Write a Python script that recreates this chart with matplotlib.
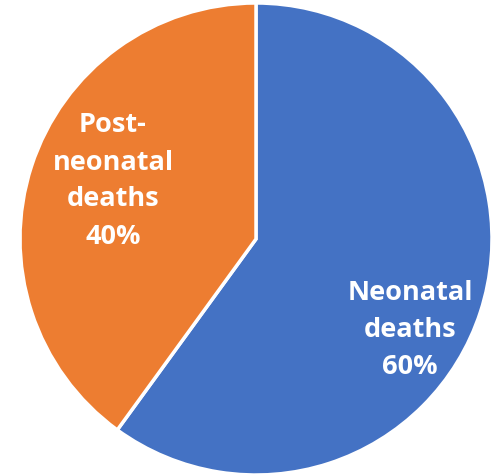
import matplotlib
matplotlib.use("Agg")
import matplotlib.pyplot as plt

# data
categories = ["Neonatal\ndeaths", "Post-\nneonatal\ndeaths"]
shares = [60, 40]
colors = ["#4472C4", "#ED7D31"]

# label centres (in pie radius units)
label_pos = [(0.653, -0.381), (-0.606, 0.25)]

fig = plt.figure(figsize=(5, 4.77), dpi=100)
ax = fig.add_axes([0, 0, 1, 1])

ax.pie(shares, colors=colors, startangle=90, counterclock=False,
       radius=1.0, center=(0, 0),
       wedgeprops=dict(edgecolor="white", linewidth=2.5))

for cat, val, (x, y) in zip(categories, shares, label_pos):
    ax.text(x, y, f"{cat}\n{val}%", ha="center", va="center",
            color="white", fontsize=19.5, fontweight="bold",
            family=["Open Sans", "DejaVu Sans"], linespacing=1.55)

ax.set_xlim(-256 / 236, 244 / 236)
ax.set_ylim(-237 / 236, 240 / 236)
ax.set_aspect("auto")
ax.axis("off")

fig.savefig("out.png", dpi=100, facecolor="white")
